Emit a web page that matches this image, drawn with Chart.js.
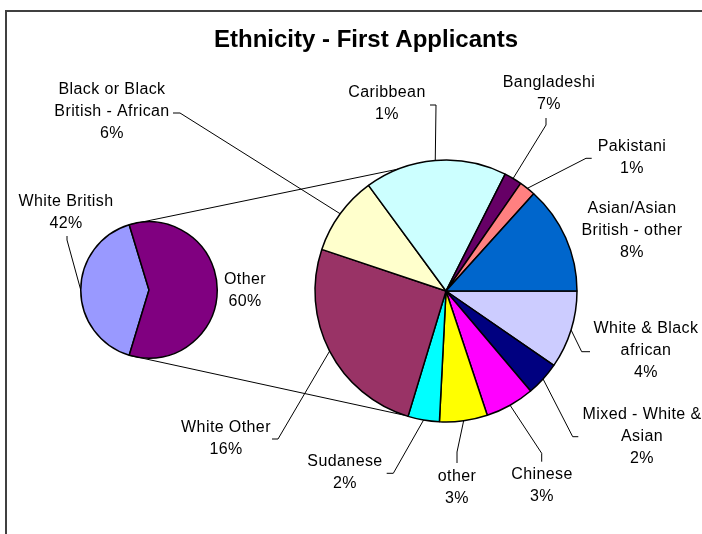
<!DOCTYPE html>
<html><head><meta charset="utf-8">
<script src="https://cdn.jsdelivr.net/npm/chart.js@4.4.0/dist/chart.umd.min.js"></script>
<style>
html,body{margin:0;padding:0;background:#fff;}
#wrap{position:relative;width:702px;height:534px;overflow:hidden;background:#fff;}
#big{position:absolute;left:0;top:0;}
#small{position:absolute;left:80px;top:221px;}
</style></head><body>
<div id="wrap"><canvas id="big" width="702" height="534"></canvas><canvas id="small" width="138" height="138"></canvas></div>
<script>
// ---- data ----
const chartTitle = 'Ethnicity - First Applicants';
const smallCategories = ['White British', 'Other'];
const smallPctLabels = ['42%', '60%'];
const whiteBritishValue = 40.6;
const bigCategories = ['White & Black african', 'Mixed - White & Asian', 'Chinese', 'other', 'Sudanese',
  'White Other', 'Black or Black British - African', 'Caribbean', 'Bangladeshi', 'Pakistani',
  'Asian/Asian British - other'];
const bigValues = [5.7, 2.5, 3.6, 3.5, 2.3, 15.1, 5.8, 10.4, 1.3, 1.2, 7.9];
const bigPctLabels = ['4%', '2%', '3%', '3%', '2%', '16%', '6%', '1%', '7%', '1%', '8%'];
const otherValue = bigValues.reduce((a, b) => a + b, 0);
const smallValues = [whiteBritishValue, otherValue];

// ---- styles ----
const smallColors = ['#9999FF', '#800080'];
const bigColors = ['#CCCCFF', '#000080', '#FF00FF', '#FFFF00', '#00FFFF', '#993366', '#FFFFCC',
  '#CCFFFF', '#660066', '#FF8080', '#0066CC'];
const FONT = "'Liberation Sans', Arial, sans-serif";
const LABEL_FONT = '16px ' + FONT;
const LINE_H = 22;
const WRAP_W = 130;

// ---- label layout (positions only) ----
const bigLabelLayout = [
  {x: 646, y: 329, pts: [[581.7, 351.7], [590, 351.7]]},
  {x: 642, y: 415, pts: [[572.7, 436.7], [578.3, 436.7]]},
  {x: 542, y: 475, pts: [[541.7, 453.3], [541.7, 461.7]]},
  {x: 457, y: 477, pts: [[457, 452], [457, 463]]},
  {x: 345, y: 462, pts: [[393.3, 473.3], [386.7, 473.3]]},
  {x: 226, y: 428, pts: [[278, 439], [272, 439]]},
  {x: 112, y: 90, pts: [[180, 113], [173, 113]]},
  {x: 387, y: 93, pts: [[436, 105], [430, 105]]},
  {x: 549, y: 83, pts: [[546, 125], [546, 118]]},
  {x: 632, y: 147, pts: [[586, 158.3], [591.7, 158.3]]},
  {x: 632, y: 209, pts: null}
];
const smallLabelLayout = [
  {x: 66, y: 202, pts: [[67, 240], [67, 236]]},
  {x: 245, y: 280, pts: null}
];
const connectorTargetsDeg = [-111.5, 108.4];

// ---- small pie ----
const otherSpan = 360 * otherValue / (whiteBritishValue + otherValue);
const wbSpan = 360 - otherSpan;
const smallRotation = 90 - (otherSpan / 2 + wbSpan);

const smallChart = new Chart(document.getElementById('small'), {
  type: 'pie',
  data: {labels: smallCategories, datasets: [{data: smallValues, backgroundColor: smallColors,
    borderColor: '#000', borderWidth: 1.5}]},
  options: {
    responsive: false, animation: false, rotation: smallRotation,
    layout: {padding: 0},
    plugins: {legend: {display: false}, tooltip: {enabled: false}, title: {display: false}}
  }
});

function wrapText(ctx, text, maxW) {
  const words = text.split(' ');
  const lines = [];
  let cur = '';
  for (const w of words) {
    const t = cur ? cur + ' ' + w : w;
    if (cur && ctx.measureText(t).width > maxW) { lines.push(cur); cur = w; }
    else cur = t;
  }
  if (cur) lines.push(cur);
  return lines;
}

function drawLabel(ctx, arc, ox, oy, name, pct, lay) {
  const p = arc.getProps(['x', 'y', 'startAngle', 'endAngle', 'outerRadius'], true);
  if (lay.pts) {
    const mid = (p.startAngle + p.endAngle) / 2;
    const ax = ox + p.x + p.outerRadius * Math.cos(mid);
    const ay = oy + p.y + p.outerRadius * Math.sin(mid);
    ctx.beginPath();
    ctx.moveTo(ax, ay);
    for (const q of lay.pts) ctx.lineTo(q[0], q[1]);
    ctx.lineWidth = 1; ctx.strokeStyle = '#000'; ctx.stroke();
  }
  ctx.font = LABEL_FONT;
  if ('letterSpacing' in ctx) ctx.letterSpacing = '0.4px';
  ctx.fillStyle = '#000';
  ctx.textAlign = 'center';
  ctx.textBaseline = 'middle';
  const lines = wrapText(ctx, name, WRAP_W).concat([pct]);
  lines.forEach((l, i) => ctx.fillText(l, lay.x, lay.y + i * LINE_H));
  if ('letterSpacing' in ctx) ctx.letterSpacing = '0px';
}

const overlay = {
  id: 'overlay',
  beforeDraw(chart) {
    const ctx = chart.ctx;
    ctx.save();
    ctx.strokeStyle = '#404040'; ctx.lineWidth = 2;
    ctx.beginPath(); ctx.moveTo(6, 600); ctx.lineTo(6, 11); ctx.lineTo(710, 11); ctx.stroke();
    ctx.restore();
  },
  afterDatasetsDraw(chart) {
    const ctx = chart.ctx;
    ctx.save();
    const bigMeta = chart.getDatasetMeta(0);
    const smMeta = smallChart.getDatasetMeta(0);
    const ox = smallChart.canvas.offsetLeft, oy = smallChart.canvas.offsetTop;
    // connectors
    const otherArc = smMeta.data[1].getProps(['x', 'y', 'startAngle', 'endAngle', 'outerRadius'], true);
    const bp = bigMeta.data[0].getProps(['x', 'y', 'outerRadius'], true);
    const ends = [otherArc.startAngle, otherArc.endAngle];
    ends.forEach((a, i) => {
      const t = connectorTargetsDeg[i] * Math.PI / 180;
      ctx.beginPath();
      ctx.moveTo(ox + otherArc.x + otherArc.outerRadius * Math.cos(a), oy + otherArc.y + otherArc.outerRadius * Math.sin(a));
      ctx.lineTo(bp.x + bp.outerRadius * Math.cos(t), bp.y + bp.outerRadius * Math.sin(t));
      ctx.lineWidth = 1; ctx.strokeStyle = '#000'; ctx.stroke();
    });
    // labels
    bigMeta.data.forEach((arc, i) => drawLabel(ctx, arc, 0, 0, bigCategories[i], bigPctLabels[i], bigLabelLayout[i]));
    smMeta.data.forEach((arc, i) => drawLabel(ctx, arc, ox, oy, smallCategories[i], smallPctLabels[i], smallLabelLayout[i]));
    // title
    ctx.font = 'bold 24px ' + FONT;
    ctx.fillStyle = '#000';
    ctx.textAlign = 'center';
    ctx.textBaseline = 'alphabetic';
    ctx.fillText(chartTitle, 366, 46.5);
    ctx.restore();
  }
};

new Chart(document.getElementById('big'), {
  type: 'pie',
  data: {labels: bigCategories, datasets: [{data: bigValues, backgroundColor: bigColors,
    borderColor: '#000', borderWidth: 1.5}]},
  options: {
    responsive: false, animation: false, rotation: 90,
    layout: {padding: {left: 314.25, right: 124.25, top: 159.25, bottom: 111.25}},
    plugins: {legend: {display: false}, tooltip: {enabled: false}, title: {display: false}}
  },
  plugins: [overlay]
});
</script>
</body></html>
